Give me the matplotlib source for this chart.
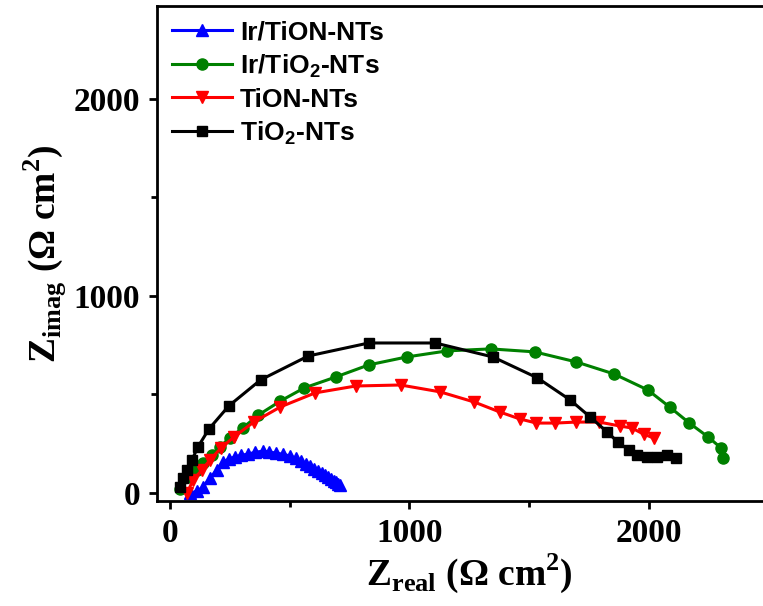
import matplotlib
matplotlib.use("Agg")
import matplotlib.pyplot as plt
from matplotlib.ticker import MultipleLocator

plt.rcParams['mathtext.fontset'] = 'custom'
plt.rcParams['mathtext.rm'] = 'Liberation Serif:bold'
plt.rcParams['mathtext.bf'] = 'Liberation Serif:bold'
plt.rcParams['mathtext.sf'] = 'Liberation Sans:bold'

# ~~~~~~~~~~~~~~~ data ~~~~~~~~~~~~~~~
ir_tion_x = [83, 112, 137, 166, 195, 220, 245, 270, 297, 324, 355, 386, 415,
             444, 473, 502, 525, 548, 567, 585, 602, 618, 633, 647, 660, 672,
             683, 693, 702, 710]
ir_tion_y = [0, 10, 30, 76, 117, 157, 172, 183, 191, 198, 206, 213, 208,
             203, 196, 188, 176, 162, 150, 137, 124, 112, 101, 91, 81, 71,
             63, 56, 48, 41]

ir_tio2_x = [41, 83, 112, 137, 174, 207, 249, 303, 369, 461, 560, 693, 830,
             988, 1158, 1340, 1523, 1697, 1855, 1996, 2087, 2170, 2249, 2303,
             2311]
ir_tio2_y = [20, 81, 117, 152, 193, 234, 279, 330, 396, 467, 533, 589, 650,
             690, 721, 731, 716, 665, 604, 523, 437, 355, 284, 228, 178]

tion_x = [71, 95, 133, 166, 212, 266, 349, 461, 606, 776, 963, 1129, 1270,
          1378, 1461, 1531, 1610, 1697, 1793, 1880, 1929, 1979, 2021]
tion_y = [0, 66, 117, 168, 228, 284, 360, 437, 508, 543, 548, 513, 462,
          411, 376, 355, 355, 360, 360, 340, 330, 299, 279]

tio2_x = [41, 54, 71, 91, 116, 162, 245, 378, 577, 830, 1108, 1349, 1535,
          1672, 1755, 1826, 1871, 1917, 1950, 1992, 2033, 2075, 2116]
tio2_y = [30, 76, 117, 168, 234, 325, 442, 574, 695, 761, 761, 690, 584,
          472, 386, 310, 259, 218, 193, 183, 183, 193, 178]

fig = plt.figure(figsize=(7.63, 6.06), dpi=100)
ax = fig.add_axes([0.2058, 0.1733, 0.82, 0.817])

ax.plot(ir_tion_x, ir_tion_y, '-^', color='#0000ff', lw=2.2, ms=8,
        label='Ir/TiON-NTs')
ax.plot(ir_tio2_x, ir_tio2_y, '-o', color='#008000', lw=2.2, ms=8,
        label='Ir/TiO$_\\mathsf{2}$-NTs')
ax.plot(tion_x, tion_y, '-v', color='#ff0000', lw=2.2, ms=8,
        label='TiON-NTs')
ax.plot(tio2_x, tio2_y, '-s', color='#000000', lw=2.2, ms=7,
        label='TiO$_\\mathsf{2}$-NTs')

ax.set_xlim(-55, 2560)
ax.set_ylim(-40, 2470)
ax.xaxis.set_major_locator(MultipleLocator(1000))
ax.xaxis.set_minor_locator(MultipleLocator(500))
ax.yaxis.set_major_locator(MultipleLocator(1000))
ax.yaxis.set_minor_locator(MultipleLocator(500))

for sp in ax.spines.values():
    sp.set_linewidth(2)
ax.tick_params(which='major', direction='out', length=6, width=2,
               labelsize=24, pad=6)
ax.tick_params(which='minor', direction='out', length=4, width=2)
for lab in ax.get_xticklabels() + ax.get_yticklabels():
    lab.set_fontfamily('Liberation Serif')
    lab.set_fontweight('bold')

ax.set_xlabel('Z$_{\\mathrm{real}}$ (\u03a9 cm$^{\\mathrm{2}}$)',
              fontsize=27, fontfamily='Liberation Serif', fontweight='bold',
              labelpad=2)
ax.set_ylabel('Z$_{\\mathrm{imag}}$ (\u03a9 cm$^{\\mathrm{2}}$)',
              fontsize=27, fontfamily='Liberation Serif', fontweight='bold',
              labelpad=4)

leg = ax.legend(loc='upper left', frameon=False, handlelength=2.3,
                borderaxespad=0.15, labelspacing=0.3, handletextpad=0.3,
                prop={'family': 'Liberation Sans', 'weight': 'bold',
                      'size': 19})

fig.savefig('out.png', dpi=100)
